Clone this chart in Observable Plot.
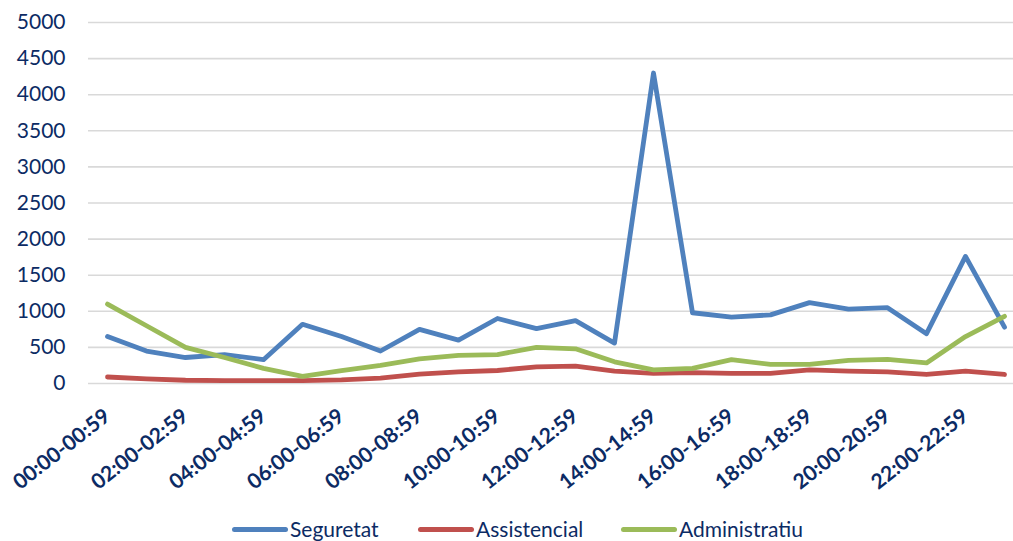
<!DOCTYPE html>
<html>
<head>
<meta charset="utf-8">
<script src="https://cdn.jsdelivr.net/npm/d3@7"></script>
<script src="https://cdn.jsdelivr.net/npm/@observablehq/plot@0.6"></script>
<style>
  html, body { margin: 0; padding: 0; background: #fff; }
  #wrap { position: relative; width: 1013px; height: 541px; overflow: hidden; font-family: Lato, "Open Sans", sans-serif; }
  #legend { position: absolute; left: 0; top: 517px; width: 1013px; height: 24px; }
  .item { position: absolute; top: 0; display: flex; align-items: center; height: 24px; color: #0c2b64; font-size: 21px; line-height: 24px; }
  .sw { display: inline-block; width: 56px; height: 5px; border-radius: 3px; margin-right: 2px; }
</style>
</head>
<body>
<div id="wrap">
  <div id="chart"></div>
  <div id="legend"></div>
</div>
<script>
const hours = ["00:00-00:59","01:00-01:59","02:00-02:59","03:00-03:59","04:00-04:59","05:00-05:59",
  "06:00-06:59","07:00-07:59","08:00-08:59","09:00-09:59","10:00-10:59","11:00-11:59",
  "12:00-12:59","13:00-13:59","14:00-14:59","15:00-15:59","16:00-16:59","17:00-17:59",
  "18:00-18:59","19:00-19:59","20:00-20:59","21:00-21:59","22:00-22:59","23:00-23:59"];
const seguretat =     [650, 450, 360, 400, 330, 820, 650, 450, 750, 600, 900, 760, 870, 560, 4300, 980, 920, 950, 1120, 1030, 1050, 690, 1760, 780];
const assistencial =  [90, 65, 45, 40, 40, 40, 50, 75, 130, 160, 180, 230, 240, 170, 140, 150, 140, 140, 190, 170, 160, 125, 170, 125];
const administratiu = [1100, 800, 500, 360, 210, 100, 180, 250, 340, 390, 400, 500, 480, 300, 190, 210, 330, 265, 265, 320, 335, 285, 650, 930];
const seriesNames = ["Seguretat", "Assistencial", "Administratiu"];
const seriesColors = ["#4F81BD", "#C0504D", "#9BBB59"];
const yTicks = [0, 500, 1000, 1500, 2000, 2500, 3000, 3500, 4000, 4500, 5000];

const values = [seguretat, assistencial, administratiu];
const data = [];
seriesNames.forEach((s, si) => hours.forEach((h, i) => data.push({series: s, hour: h, value: values[si][i]})));

const textColor = "#0c2b64";

const chart = Plot.plot({
  width: 1013,
  height: 500,
  marginTop: 22,
  marginBottom: 117,
  marginLeft: 88,
  marginRight: 0,
  style: {fontFamily: "Lato, 'Open Sans', sans-serif", color: textColor, background: "#fff"},
  x: {type: "point", domain: hours, range: [107, 1004], padding: 0},
  y: {domain: [0, 5000]},
  color: {domain: seriesNames, range: seriesColors},
  marks: [
    Plot.gridY(yTicks, {stroke: "#d9d9d9", strokeOpacity: 1, strokeWidth: 1.6}),
    Plot.axisY(yTicks, {tickSize: 0, tickPadding: 23, fontSize: 21, fill: textColor, label: null, tickFormat: d => String(d)}),
    Plot.axisX(hours.filter((d, i) => i % 2 === 0), {tickSize: 0, tickPadding: 30, tickRotate: -38, fontSize: 21, fontWeight: "bold", fill: textColor, label: null}),
    Plot.line(data, {x: "hour", y: "value", z: "series", stroke: "series", strokeWidth: 4.8, strokeLinejoin: "round", strokeLinecap: "round"})
  ]
});
document.getElementById("chart").appendChild(chart);

const legend = document.getElementById("legend");
const lefts = [232, 418, 621];
seriesNames.forEach((s, i) => {
  const it = document.createElement("div");
  it.className = "item";
  it.style.left = lefts[i] + "px";
  it.innerHTML = `<span class="sw" style="background:${seriesColors[i]}"></span><span>${s}</span>`;
  legend.appendChild(it);
});
</script>
</body>
</html>
